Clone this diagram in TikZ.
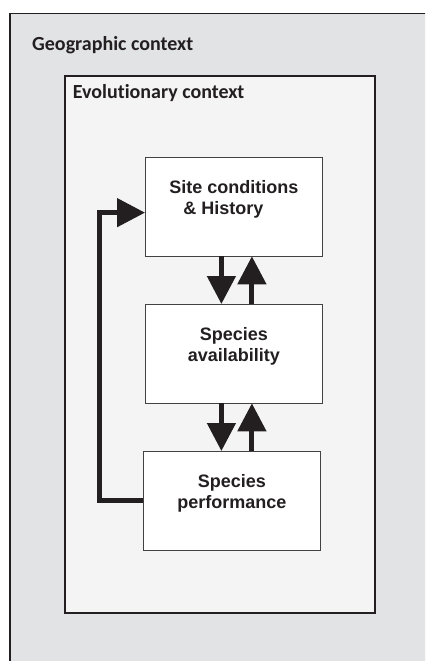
\documentclass[tikz,border=0pt]{standalone}
\usepackage{fontspec}
\setmainfont{Liberation Sans}
\newfontfamily\ctxfont[Ligatures=NoCommon]{Carlito}
\usetikzlibrary{arrows.meta}

\definecolor{geofill}{RGB}{226,227,229}
\definecolor{evofill}{RGB}{244,244,244}
\definecolor{inkdark}{RGB}{35,31,32}

\tikzset{
    ctxbox/.style={draw=inkdark, anchor=north west, inner sep=0pt},
    ctxlabel/.style={anchor=base west, inner sep=0pt, text=inkdark,
        font=\ctxfont\bfseries\fontsize{20bp}{24bp}\selectfont},
    factorbox/.style={draw=inkdark!85, fill=white, line width=0.8bp,
        anchor=north west, inner sep=0pt, minimum width=177bp,
        text height=57.5bp, text depth=41bp, text=inkdark,
        font=\bfseries\fontsize{18bp}{21.5bp}\selectfont},
    flow/.style={draw=inkdark, line width=5bp,
        -{Triangle[length=28bp, width=28bp]}}
}

\begin{document}
\begin{tikzpicture}[x=1bp, y=-1bp]
        \clip (0,0) rectangle (425,661);

        % context frames
        \node[ctxbox, fill=geofill, line width=1.5bp,
            minimum width=450bp, minimum height=680bp] (geo) at (9,13) {};
        \node[ctxbox, fill=evofill, line width=2bp,
            minimum width=310bp, minimum height=537bp] (evo) at (64,75) {};
        \node[ctxlabel] (geolabel) at (32,51) {Geographic context};
        \node[ctxlabel] (evolabel) at (72.7,99) {Evolutionary context};

        % factors
        \node[factorbox, align=left] (site) at (145,157)
            {Site conditions\\\hspace*{14bp}\& History};
        \node[factorbox, align=center] (avail) at (145,304)
            {Species\\availability};
        \node[factorbox, align=center] (perf) at (143,451)
            {Species\\performance};

        % links
        \draw[flow] ([xshift=-12.5bp]site.south) -- ([xshift=-12.5bp]avail.north);
        \draw[flow] ([xshift=18bp]avail.north) -- ([xshift=18bp]site.south);
        \draw[flow] ([xshift=-12.5bp]avail.south) -- ([xshift=-12.5bp]avail.south |- perf.north);
        \draw[flow] ([xshift=18bp]avail.south |- perf.north) -- ([xshift=18bp]avail.south);
        \draw[flow] (perf.west) -- ++(-44bp,0) |- ([yshift=-6bp]site.west);
    \end{tikzpicture}
\end{document}
